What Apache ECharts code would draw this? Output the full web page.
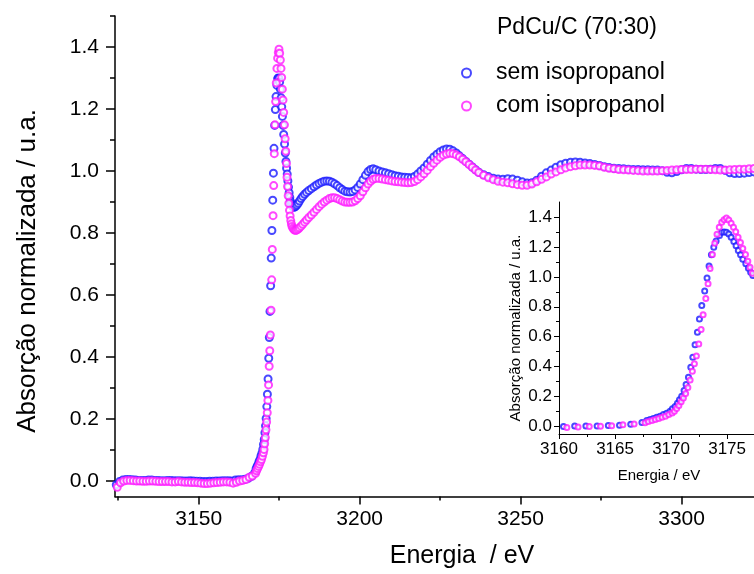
<!DOCTYPE html>
<html>
<head>
<meta charset="utf-8">
<script src="https://cdn.jsdelivr.net/npm/echarts@6/dist/echarts.min.js"></script>
<style>
html,body{margin:0;padding:0;background:#fff;}
#chart{width:754px;height:574px;}
</style>
</head>
<body>
<div id="chart"></div>
<script>
// ---- data: sem isopropanol (blue) ----
var energySem = [
3124.4,3125.4,3126.4,3127.4,3128.4,3129.4,3130.4,3131.4,3132.4,3133.4,
3134.4,3135.4,3136.4,3137.4,3138.4,3139.4,3140.4,3141.4,3142.4,3143.4,
3144.4,3145.4,3146.4,3147.4,3148.4,3149.4,3150.4,3151.4,3152.4,3153.4,
3154.4,3155.4,3156.4,3157.4,3158.4,3159.4,3160.4,3161.4,3162.4,3163.4,
3164.4,3165.4,3166.4,3167.4,
3167.83,3168.13,3168.42,3168.72,3169.02,3169.32,3169.61,3169.91,3170.12,3170.36,
3170.57,3170.75,3170.95,3171.16,3171.34,3171.55,3171.76,3171.94,3172.14,3172.35,
3172.53,3172.74,3173.00,3173.21,3173.39,3173.60,3173.81,3174.02,3174.32,3174.52,
3174.73,3174.94,3175.15,3175.36,3175.60,3175.80,3176.00,3176.20,3176.40,3176.67,
3176.90,3177.10,3177.30,
3177.5,3177.7,3177.9,3178.1,3178.3,3178.5,3178.7,3178.9,
3179.2,3179.5,3179.8,3180.1,3180.5,3180.9,3181.3,3181.8,3182.3,3182.9,3183.5,3184.2,
3185.0,3185.8,3186.6,3187.4,3188.2,3189.0,3189.8,3190.6,3191.4,3192.2,
3193.0,3193.8,3194.6,3195.4,3196.2,3197.0,3197.8,3198.6,3199.4,3200.2,
3201.0,3201.8,3202.6,3203.4,3204.2,
3205,3206,3207,3208,3209,3210,3211,3212,3213,3214,
3215,3216,3217,3218,3219,3220,3221,3222,3223,3224,
3225,3226,3227,3228,3229,3230,3231,3232,3233,3234,
3235,3236,3237,
3238.5,3240.0,3241.5,3243.0,3244.5,3246.0,3247.5,3249.0,3250.5,3252.0,
3253.5,3255.0,3256.5,3258.0,3259.5,3261.0,3262.5,3264.0,3265.5,3267.0,
3268.5,3270.0,3271.5,3273.0,3274.5,3276.0,3277.5,3279.0,3280.5,3282.0,
3283.5,3285.0,3286.5,3288.0,3289.5,3291.0,3292.5,3294.0,3295.5,3297.0,
3298.5,3300.0,3301.5,3303.0,3304.5,3306.0,3307.5,3309.0,3310.5,3312.0,
3313.5,3315.0,3316.5,3318.0,3319.5,3321.0,3322.5,3324.0,3325.5,3327.0,
3328.5
];
var absSem = [
-0.012,-0.002,0.003,0.005,0.005,0.004,0.003,0.002,0.002,0.002,
0.003,0.003,0.002,0.002,0.001,0.001,0.002,0.002,0.001,0.001,
0.001,0.000,0.000,0.001,0.000,-0.001,-0.001,-0.002,-0.002,-0.001,
-0.001,0.000,0.000,0.001,0.001,0.001,0.000,0.003,0.004,0.004,
0.006,0.009,0.015,0.027,
0.040,0.047,0.053,0.062,0.069,0.080,0.089,0.102,0.118,0.134,
0.156,0.178,0.202,0.240,0.280,0.329,0.396,0.463,0.547,0.630,
0.719,0.808,0.906,0.993,1.073,1.147,1.198,1.240,1.276,1.298,
1.300,1.298,1.287,1.264,1.236,1.207,1.176,1.147,1.118,1.087,
1.058,1.031,1.009,
0.990,0.968,0.948,0.930,0.915,0.903,0.895,0.889,
0.885,0.883,0.884,0.886,0.890,0.896,0.903,0.911,0.918,0.925,0.931,0.937,
0.943,0.949,0.955,0.960,0.964,0.967,0.968,0.967,0.964,0.959,
0.953,0.946,0.940,0.935,0.933,0.932,0.934,0.939,0.947,0.958,
0.972,0.986,0.998,1.005,1.007,
1.004,1.000,0.997,0.994,0.991,0.988,0.985,0.983,0.981,0.980,
0.979,0.978,0.982,0.990,1.000,1.010,1.022,1.034,1.045,1.054,
1.062,1.068,1.071,1.070,1.065,1.058,1.049,1.040,1.031,1.022,
1.013,1.004,0.996,
0.988,0.982,0.977,0.974,0.973,0.975,0.974,0.970,0.965,0.961,
0.962,0.970,0.983,0.994,1.003,1.012,1.020,1.025,1.028,1.029,
1.028,1.026,1.024,1.021,1.018,1.014,1.011,1.009,1.008,1.007,
1.006,1.005,1.005,1.004,1.004,1.003,1.003,1.001,0.996,0.994,
0.998,1.004,1.008,1.008,1.006,1.005,1.005,1.006,1.008,1.008,
1.002,0.994,0.992,0.992,0.993,0.995,0.997,0.998,0.998,0.999,
1.000
];
// ---- data: com isopropanol (magenta) ----
var energyCom = [
3124.7,3125.7,3126.7,3127.7,3128.7,3129.7,3130.7,3131.7,3132.7,3133.7,
3134.7,3135.7,3136.7,3137.7,3138.7,3139.7,3140.7,3141.7,3142.7,3143.7,
3144.7,3145.7,3146.7,3147.7,3148.7,3149.7,3150.7,3151.7,3152.7,3153.7,
3154.7,3155.7,3156.7,3157.7,3158.7,3159.7,3160.7,3161.7,3162.7,3163.7,
3164.7,3165.7,3166.7,
3167.68,3167.98,3168.30,3168.60,3168.90,3169.20,3169.50,3169.80,3170.10,3170.30,
3170.50,3170.70,3170.90,3171.10,3171.30,3171.50,3171.70,3171.90,3172.08,3172.26,
3172.47,3172.68,3172.86,3173.10,3173.30,3173.48,3173.69,3173.90,3174.10,3174.30,
3174.52,3174.73,3174.94,3175.15,3175.36,3175.57,3175.77,3175.98,3176.19,3176.40,
3176.64,3176.85,3177.05,3177.26,3177.44,
3177.6,3177.8,3178.0,3178.2,3178.4,3178.6,3178.8,3179.0,
3179.3,3179.6,3179.9,3180.2,3180.5,3180.9,3181.3,3181.8,3182.3,3182.9,3183.5,3184.2,
3185.0,3185.8,3186.6,3187.4,3188.2,3189.0,3189.8,3190.6,3191.4,3192.2,
3193.0,3193.8,3194.6,3195.4,3196.2,3197.0,3197.8,3198.6,3199.4,3200.2,
3201.0,3201.8,3202.6,3203.4,3204.2,
3205,3206,3207,3208,3209,3210,3211,3212,3213,3214,
3215,3216,3217,3218,3219,3220,3221,3222,3223,3224,
3225,3226,3227,3228,3229,3230,3231,3232,3233,3234,
3235,3236,3237,
3238.5,3240.0,3241.5,3243.0,3244.5,3246.0,3247.5,3249.0,3250.5,3252.0,
3253.5,3255.0,3256.5,3258.0,3259.5,3261.0,3262.5,3264.0,3265.5,3267.0,
3268.5,3270.0,3271.5,3273.0,3274.5,3276.0,3277.5,3279.0,3280.5,3282.0,
3283.5,3285.0,3286.5,3288.0,3289.5,3291.0,3292.5,3294.0,3295.5,3297.0,
3298.5,3300.0,3301.5,3303.0,3304.5,3306.0,3307.5,3309.0,3310.5,3312.0,
3313.5,3315.0,3316.5,3318.0,3319.5,3321.0,3322.5,3324.0,3325.5,3327.0,
3328.5
];
var absCom = [
-0.020,-0.006,0.000,0.002,0.002,0.001,0.000,0.000,-0.001,-0.001,
0.000,0.000,-0.001,-0.002,-0.002,-0.002,-0.002,-0.003,-0.003,-0.002,
-0.003,-0.004,-0.004,-0.005,-0.005,-0.006,-0.007,-0.008,-0.008,-0.007,
-0.006,-0.005,-0.004,-0.003,-0.003,-0.004,-0.007,-0.004,0.000,0.002,
0.005,0.012,0.016,
0.025,0.033,0.040,0.047,0.054,0.062,0.069,0.080,0.091,0.102,
0.120,0.140,0.165,0.190,0.220,0.260,0.310,0.370,0.420,0.471,
0.551,0.649,0.747,0.856,0.953,1.056,1.149,1.224,1.284,1.331,
1.364,1.382,1.393,1.380,1.358,1.331,1.302,1.264,1.229,1.189,
1.149,1.104,1.064,1.024,0.980,
0.950,0.920,0.895,0.873,0.855,0.840,0.829,0.821,
0.815,0.811,0.809,0.809,0.810,0.813,0.817,0.822,0.828,0.835,0.842,0.850,
0.858,0.867,0.876,0.885,0.893,0.900,0.906,0.911,0.914,0.914,
0.911,0.907,0.903,0.900,0.899,0.899,0.900,0.904,0.911,0.920,
0.933,0.946,0.958,0.967,0.973,
0.976,0.976,0.974,0.972,0.970,0.968,0.966,0.965,0.964,0.963,
0.962,0.963,0.966,0.972,0.981,0.991,1.002,1.014,1.025,1.035,
1.044,1.051,1.055,1.057,1.056,1.052,1.046,1.038,1.030,1.021,
1.012,1.003,0.995,
0.986,0.978,0.972,0.967,0.964,0.962,0.959,0.956,0.954,0.954,
0.958,0.965,0.973,0.981,0.990,0.997,1.004,1.010,1.014,1.017,
1.019,1.019,1.019,1.018,1.016,1.012,1.009,1.007,1.005,1.004,
1.003,1.002,1.001,1.000,1.000,1.000,1.000,1.001,1.002,1.003,
1.004,1.005,1.005,1.005,1.006,1.006,1.006,1.005,1.004,1.003,
1.003,1.004,1.005,1.006,1.006,1.007,1.008,1.008,1.008,1.008,
1.008
];
// ---- tick labels ----
var mainXTicks = [3150, 3200, 3250, 3300];
var mainXMinor = [3125, 3175, 3225, 3275];
var mainYTicks = [0, 0.2, 0.4, 0.6, 0.8, 1.0, 1.2, 1.4];
var mainYMinor = [0.1, 0.3, 0.5, 0.7, 0.9, 1.1, 1.3, 1.5];
var insetXTicks = [3160, 3165, 3170, 3175];
var insetXMinor = [3162.5, 3167.5, 3172.5];
var insetYTicks = [0, 0.2, 0.4, 0.6, 0.8, 1.0, 1.2, 1.4];
var insetYMinor = [0.1, 0.3, 0.5, 0.7, 0.9, 1.1, 1.3];
var seriesNames = ['sem isopropanol', 'com isopropanol'];
var legendTitle = 'PdCu/C (70:30)';

var BLUE = '#1a1aff', MAG = '#ff1aff';
var FONT = 'Liberation Sans, Arial, sans-serif';

function pairs(e, a) { return e.map(function (v, i) { return [v, a[i]]; }); }
var semData = pairs(energySem, absSem);
var comData = pairs(energyCom, absCom);

function xAxisDef(grid, min, max, ticks, minor, fs, margin, tlen, mlen, lw) {
  return [{
    type: 'value', gridIndex: grid, min: min, max: max, position: 'bottom',
    axisLine: { show: true, onZero: false, lineStyle: { color: '#000', width: lw } },
    axisTick: { show: true, inside: false, length: tlen, customValues: ticks, lineStyle: { color: '#000', width: lw } },
    axisLabel: { show: true, customValues: ticks, margin: margin, fontSize: fs, fontFamily: FONT, color: '#000',
      formatter: function (v) { return String(v); } },
    splitLine: { show: false }
  }, {
    type: 'value', gridIndex: grid, min: min, max: max, position: 'bottom',
    axisLine: { show: false, onZero: false },
    axisTick: { show: true, inside: false, length: mlen, customValues: minor, lineStyle: { color: '#000', width: lw } },
    axisLabel: { show: false, customValues: minor },
    splitLine: { show: false }
  }];
}
function yAxisDef(grid, ticks, minor, fs, margin, tlen, mlen, lw) {
  return [{
    type: 'value', gridIndex: grid, min: -0.05, max: 1.5, position: 'left',
    axisLine: { show: true, onZero: false, lineStyle: { color: '#000', width: lw } },
    axisTick: { show: true, inside: false, length: tlen, customValues: ticks, lineStyle: { color: '#000', width: lw } },
    axisLabel: { show: true, customValues: ticks, margin: margin, fontSize: fs, fontFamily: FONT, color: '#000',
      formatter: function (v) { return v.toFixed(1); } },
    splitLine: { show: false }
  }, {
    type: 'value', gridIndex: grid, min: -0.05, max: 1.5, position: 'left',
    axisLine: { show: false, onZero: false },
    axisTick: { show: true, inside: false, length: mlen, customValues: minor, lineStyle: { color: '#000', width: lw } },
    axisLabel: { show: false, customValues: minor },
    splitLine: { show: false }
  }];
}

// main axis runs past the right edge of the picture; its visible part ends at 3322.5 eV
var xAxes = xAxisDef(0, 3124, 3322.5, mainXTicks, mainXMinor, 21, 12, 8, 4, 1.5)
  .concat(xAxisDef(1, 3160, 3177.4, insetXTicks, insetXMinor, 17, 7, 5, 3, 1));
var yAxes = yAxisDef(0, mainYTicks, mainYMinor, 21, 16, 9, 5, 1.5)
  .concat(yAxisDef(1, insetYTicks, insetYMinor, 17, 7, 5, 3, 1));

function sc(name, data, color, xi, yi, size) {
  return {
    type: 'scatter', name: name, data: data, xAxisIndex: xi, yAxisIndex: yi,
    symbol: 'emptyCircle', symbolSize: size, clip: true,
    itemStyle: { color: color, borderColor: color, borderWidth: 1 },
    emphasis: { disabled: true }, animation: false
  };
}

var chart = echarts.init(document.getElementById('chart'), null, { renderer: 'canvas' });
chart.setOption({
  backgroundColor: '#fff',
  animation: false,
  grid: [
    { left: 115, top: 16, height: 480.5, right: 0, containLabel: false },
    { left: 559, top: 202, height: 232, right: 0, containLabel: false }
  ],
  xAxis: xAxes,
  yAxis: yAxes,
  legend: {
    orient: 'vertical', left: 456, top: 55, itemWidth: 9, itemHeight: 9, itemGap: 7,
    data: seriesNames,
    textStyle: { fontSize: 23, fontFamily: FONT, color: '#000', padding: [0, 0, 0, 20], lineHeight: 26 },
    selectedMode: false
  },
  graphic: [
    { type: 'text', left: 497, top: 16, style: { text: legendTitle, font: '23px ' + FONT, fill: '#000' } },
    { type: 'text', x: 462, y: 556, style: { text: 'Energia  / eV', font: '25px ' + FONT, fill: '#000', align: 'center', verticalAlign: 'middle' } },
    { type: 'text', x: 28, y: 271, rotation: Math.PI / 2, style: { text: 'Absorção normalizada / u.a.', font: '26px ' + FONT, fill: '#000', align: 'center', verticalAlign: 'middle' } },
    { type: 'text', x: 659, y: 476, style: { text: 'Energia / eV', font: '15px ' + FONT, fill: '#000', align: 'center', verticalAlign: 'middle' } },
    { type: 'text', x: 516, y: 328, rotation: Math.PI / 2, style: { text: 'Absorção normalizada / u.a.', font: '15px ' + FONT, fill: '#000', align: 'center', verticalAlign: 'middle' } }
  ],
  series: [
    sc(seriesNames[0], semData, BLUE, 0, 0, 7),
    sc(seriesNames[1], comData, MAG, 0, 0, 7),
    sc(seriesNames[0], semData, BLUE, 2, 2, 5),
    sc(seriesNames[1], comData, MAG, 2, 2, 5)
  ]
});
</script>
</body>
</html>
